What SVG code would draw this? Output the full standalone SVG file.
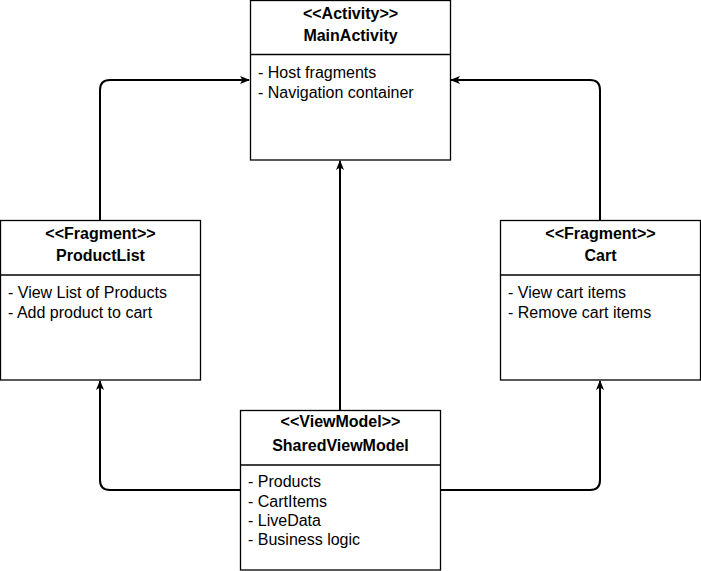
<svg xmlns="http://www.w3.org/2000/svg" width="701" height="571" viewBox="0 0 701 571">
<style>
.box{fill:#fff;stroke:#000;stroke-width:1.3}
.div{stroke:#000;stroke-width:1.3}
.hd{font-family:"Liberation Sans",Arial,sans-serif;font-size:16px;font-weight:bold;text-anchor:middle;fill:#000}
.it{font-family:"Liberation Sans",Arial,sans-serif;font-size:16px;fill:#000}
.edge{fill:none;stroke:#000;stroke-width:2;stroke-linejoin:round}
</style>
<defs>
<marker id="arr" viewBox="0 0 10 8" refX="9" refY="4" markerWidth="10" markerHeight="8" markerUnits="userSpaceOnUse" orient="auto">
<path d="M0,0 L10,4 L0,8 L2.5,4 Z" fill="#000"/>
</marker>
</defs>
<g id="connectors">
<path class="edge" d="M100,220 V90 Q100,80 110,80 H249" marker-end="url(#arr)"/>
<path class="edge" d="M600,220 V90 Q600,80 590,80 H451" marker-end="url(#arr)"/>
<path class="edge" d="M340,410 V161" marker-end="url(#arr)"/>
<path class="edge" d="M240,490 H110 Q100,490 100,480 V381" marker-end="url(#arr)"/>
<path class="edge" d="M440,490 H590 Q600,490 600,480 V381" marker-end="url(#arr)"/>
</g>
<g id="MainActivity">
<rect class="box" x="250.5" y="0.5" width="200" height="159.5"/>
<line class="div" x1="250.5" y1="54.5" x2="450.5" y2="54.5"/>
<text class="hd" x="350.5" y="19">&lt;&lt;Activity&gt;&gt;</text>
<text class="hd" x="350.5" y="41">MainActivity</text>
<text class="it" x="258" y="78">- Host fragments</text>
<text class="it" x="258" y="98">- Navigation container</text>
</g>
<g id="ProductList">
<rect class="box" x="0.5" y="220.5" width="200" height="159.5"/>
<line class="div" x1="0.5" y1="275" x2="200.5" y2="275"/>
<text class="hd" x="100.5" y="239">&lt;&lt;Fragment&gt;&gt;</text>
<text class="hd" x="100.5" y="261">ProductList</text>
<text class="it" x="8" y="298">- View List of Products</text>
<text class="it" x="8" y="318">- Add product to cart</text>
</g>
<g id="Cart">
<rect class="box" x="500.5" y="220.5" width="200" height="159.5"/>
<line class="div" x1="500.5" y1="275" x2="700.5" y2="275"/>
<text class="hd" x="600.5" y="239">&lt;&lt;Fragment&gt;&gt;</text>
<text class="hd" x="600.5" y="261">Cart</text>
<text class="it" x="508" y="298">- View cart items</text>
<text class="it" x="508" y="318">- Remove cart items</text>
</g>
<g id="SharedViewModel">
<rect class="box" x="240.5" y="410.5" width="200" height="159.5"/>
<line class="div" x1="240.5" y1="465" x2="440.5" y2="465"/>
<text class="hd" x="340.5" y="427">&lt;&lt;ViewModel&gt;&gt;</text>
<text class="hd" x="340.5" y="451">SharedViewModel</text>
<text class="it" x="248" y="487">- Products</text>
<text class="it" x="248" y="507">- CartItems</text>
<text class="it" x="248" y="526">- LiveData</text>
<text class="it" x="248" y="545">- Business logic</text>
</g>
</svg>
